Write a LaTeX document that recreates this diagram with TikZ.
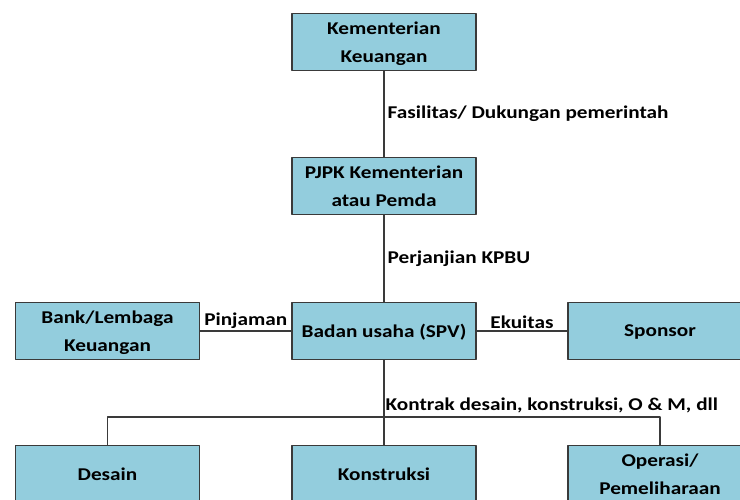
\documentclass[tikz,border=0pt]{standalone}
\usepackage{fontspec}
\setmainfont{Carlito}[FakeStretch=1.18]
\usetikzlibrary{calc,positioning}
\definecolor{boxfill}{HTML}{93CDDD}
\definecolor{boxline}{HTML}{3A3A3A}
\begin{document}
\begin{tikzpicture}[x=1pt, y=-1pt, line join=round,
    box/.style={draw=boxline, fill=boxfill, line width=1.4pt, minimum width=184pt,
      minimum height=57pt, align=center, inner sep=2pt, text depth=0pt,
      font=\fontsize{18}{28.5}\selectfont\bfseries},
    lbl/.style={font=\fontsize{18}{20}\selectfont\bfseries, inner sep=3pt},
    link/.style={draw=boxline, line width=1.4pt}]
    \useasboundingbox (0,0) rectangle (740,500);
    \node[box] (kemenkeu) at (384,42) {Kementerian\\Keuangan};
    \node[box] (pjpk) at (384,186) {PJPK Kementerian\\atau Pemda};
    \node[box] (spv) at (384,331) {Badan usaha (SPV)};
    \node[box] (bank) at (107.5,331) {Bank/Lembaga\\Keuangan};
    \node[box] (sponsor) at (660,331) {Sponsor};
    \node[box] (desain) at (107.5,474) {Desain};
    \node[box] (konstruksi) at (384,474) {Konstruksi};
    \node[box] (operasi) at (660,474) {Operasi/\\Pemeliharaan};
    \coordinate (bus) at (384,417);
    \draw[link] (kemenkeu) -- node[lbl, right] {Fasilitas/ Dukungan pemerintah} (pjpk);
    \draw[link] (pjpk) -- node[lbl, right] {Perjanjian KPBU} (spv);
    \draw[link] (bank) -- node[lbl, above, inner sep=2pt] {Pinjaman} (spv);
    \draw[link] (spv) -- node[lbl, above, inner sep=2pt] {Ekuitas} (sponsor);
    \draw[link] (spv) -- (bus) node[lbl, above right, inner sep=1pt, yshift=2pt] {Kontrak desain, konstruksi, O \& M, dll};
    \draw[link] (desain.north) -- (desain.north |- bus) -- (operasi.north |- bus) -- (operasi.north);
    \draw[link] (bus) -- (konstruksi);
\end{tikzpicture}
\end{document}
